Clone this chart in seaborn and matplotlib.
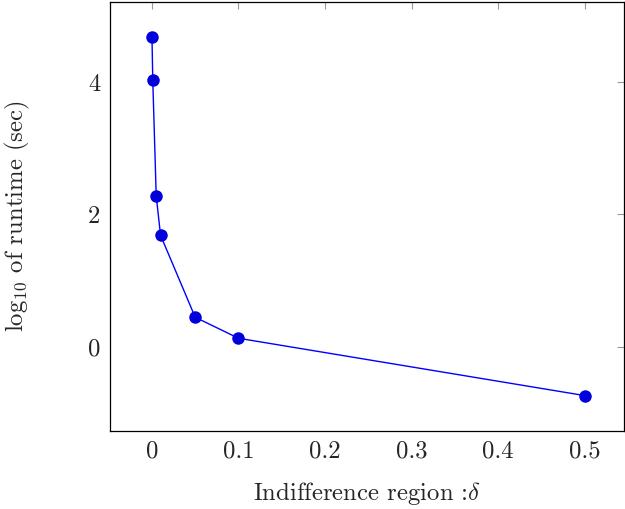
import matplotlib
matplotlib.use("Agg")
import matplotlib.pyplot as plt
import seaborn as sns
import pandas as pd

# Indifference region widths and measured log10 runtimes
delta = [0.0001, 0.001, 0.005, 0.01, 0.05, 0.1, 0.5]
log_runtime = [4.675, 4.026, 2.275, 1.686, 0.448, 0.131, -0.735]

x_ticks = [0, 0.1, 0.2, 0.3, 0.4, 0.5]
x_labels = ["0", "0.1", "0.2", "0.3", "0.4", "0.5"]
y_ticks = [0, 2, 4]
y_labels = ["0", "2", "4"]

sns.set_theme(style="white")
plt.rcParams["font.family"] = ["cmr10", "DejaVu Serif"]
plt.rcParams["mathtext.fontset"] = "cm"
plt.rcParams["axes.formatter.use_mathtext"] = True

df = pd.DataFrame({"delta": delta, "log_runtime": log_runtime})

fig = plt.figure(figsize=(6.25, 5.09), dpi=100)
ax = fig.add_axes([0.176, 0.1532, 0.822, 0.843])

sns.lineplot(data=df, x="delta", y="log_runtime", ax=ax, color="#0000ff",
             linewidth=1.0, marker="o", markersize=9, markerfacecolor="#0000dd",
             markeredgecolor="#0000dd", markeredgewidth=0)

ax.set_xlim(-0.0484, 0.545)
ax.set_ylim(-1.27, 5.21)
ax.set_xticks(x_ticks)
ax.set_xticklabels(x_labels)
ax.set_yticks(y_ticks)
ax.set_yticklabels(y_labels)

ax.tick_params(direction="in", length=5, width=0.8, color="#999999",
               top=True, right=True, labelsize=17.8, pad=7)
for sp in ax.spines.values():
    sp.set_color("black")
    sp.set_linewidth(0.9)

ax.set_xlabel(r"Indifference region :$\delta$", fontsize=17.8, labelpad=12)
ax.set_ylabel(r"log$_{10}$ of runtime (sec)", fontsize=17.8, labelpad=40)

fig.savefig("out.png", dpi=100)
